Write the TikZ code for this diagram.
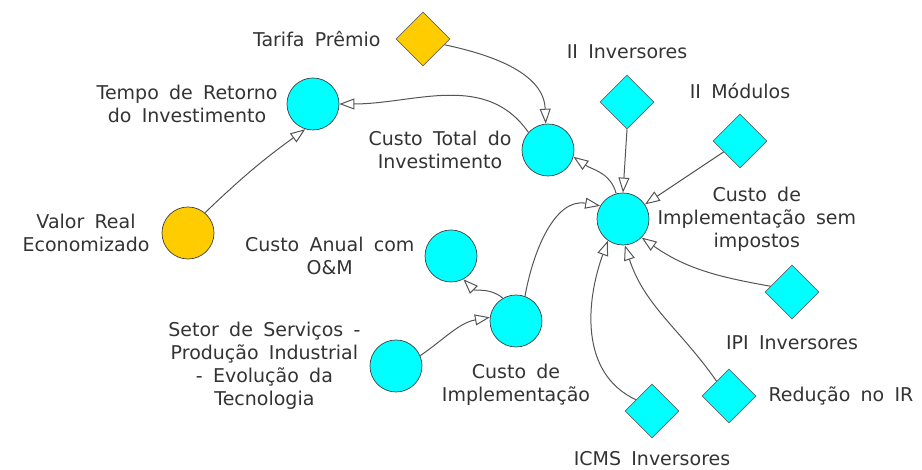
\documentclass[tikz,border=0pt]{standalone}
\usepackage{fontspec}
\setmainfont{DejaVu Sans}[WordSpace=1.7]
\usetikzlibrary{arrows.meta, positioning, shapes.geometric}
\definecolor{auxcyan}{HTML}{00FFFF}
\definecolor{inputgold}{HTML}{FFCC00}
\definecolor{linkgray}{HTML}{555555}
\definecolor{textgray}{HTML}{333333}

\begin{document}
\begin{tikzpicture}[
        x=1pt, y=1pt,
        auxnode/.style={
            circle, draw=black!75, line width=0.7pt, fill=auxcyan,
            minimum size=52pt, inner sep=0pt
        },
        goldaux/.style={auxnode, fill=inputgold},
        constnode/.style={
            diamond, draw=black!60, line width=0.7pt, fill=auxcyan,
            minimum size=54pt, inner sep=0pt
        },
        goldconst/.style={constnode, fill=inputgold},
        varname/.style={
            inner sep=0pt, align=center, text=textgray,
            font=\fontsize{19}{23}\selectfont
        },
        link/.style={-{Triangle[open, length=15pt, width=11pt, fill=white]},
            draw=linkgray, line width=1pt}
    ]
    \useasboundingbox (0,0) rectangle (922,470);

    % VARIABLES
    \node[goldconst] (tarifa) at (423,431) {};
    \node[auxnode] (tempo) at (313,366) {};
    \node[auxnode] (ctotal) at (548,320) {};
    \node[constnode] (iiinv) at (627,368) {};
    \node[constnode] (iimod) at (740,329) {};
    \node[auxnode] (cisi) at (623,251) {};
    \node[goldaux] (valor) at (188,237) {};
    \node[auxnode] (canual) at (451,214) {};
    \node[auxnode] (cimpl) at (516,149) {};
    \node[auxnode] (setor) at (396,104) {};
    \node[constnode] (ipi) at (792,178) {};
    \node[constnode] (reducao) at (729,74) {};
    \node[constnode] (icms) at (652,59) {};

    % NAMES
    \node[varname, left=15pt of tarifa] (tarifaname) {Tarifa Prêmio};
    \node[varname, left=9pt of tempo] (temponame) {Tempo de Retorno\\do Investimento};
    \node[varname, left=10pt of ctotal] (ctotalname) {Custo Total do\\Investimento};
    \node[varname, above=16pt of iiinv] (iiinvname) {II Inversores};
    \node[varname, above=15pt of iimod] (iimodname) {II Módulos};
    \node[varname, right=8pt of cisi] (cisiname) {Custo de\\Implementação sem\\impostos};
    \node[varname, left=12pt of valor] (valorname) {Valor Real\\Economizado};
    \node[varname, left=10pt of canual] (canualname) {Custo Anual com\\O\&M};
    \node[varname, left=9pt of setor] (setorname) {Setor de Serviços -\\Produção Industrial\\- Evolução da\\Tecnologia};
    \node[varname, below=17pt of cimpl] (cimplname) {Custo de\\Implementação};
    \node[varname, below=16pt of ipi] (ipiname) {IPI Inversores};
    \node[varname, right=12pt of reducao] (reducaoname) {Redução no IR};
    \node[varname, below=13pt of icms] (icmsname) {ICMS Inversores};

    % LINKS
    \draw[link] (tarifa.-15) to[out=-12, in=92] (ctotal.95);
    \draw[link] (ctotal.138) to[out=125, in=0] (tempo.east);
    \draw[link] (valor.50) to[bend left=4] (tempo.-107);
    \draw[link] (cisi.105) to[out=105, in=-35] (ctotal.-15);
    \draw[link] (iiinv.south) -- (cisi.north);
    \draw[link] (iimod) -- (cisi);
    \draw[link] (cimpl.70) to[out=80, in=170] (cisi.150);
    \draw[link] (cimpl.120) to[out=140, in=-45] (canual.-62);
    \draw[link] (setor.23) to[out=35, in=190] (cimpl.172);
    \draw[link] (ipi.165) to[out=170, in=-35] (cisi.-45);
    \draw[link] (reducao.130) to[out=125, in=-72] (cisi.-86);
    \draw[link] (icms.145) to[out=155, in=-110] (cisi.-125);

\end{tikzpicture}
\end{document}
